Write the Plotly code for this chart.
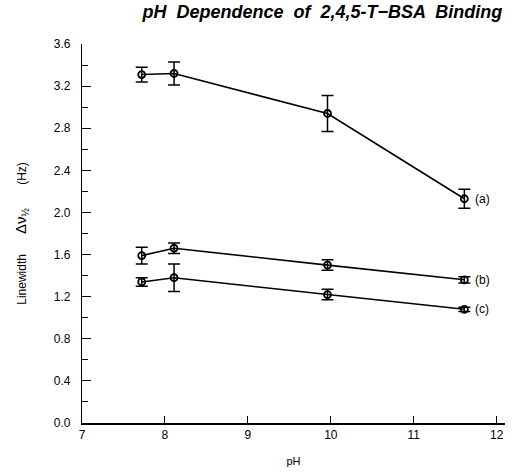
import plotly.graph_objects as go

ph = [7.72, 8.11, 9.96, 11.61]
a_vals = [3.31, 3.32, 2.94, 2.13]
a_err = [0.07, 0.11, 0.17, 0.09]
b_vals = [1.59, 1.66, 1.50, 1.36]
b_err = [0.08, 0.05, 0.05, 0.03]
c_vals = [1.34, 1.38, 1.22, 1.08]
c_err = [0.04, 0.13, 0.05, 0.02]
series_labels = ["(a)", "(b)", "(c)"]

FONT = "Liberation Sans, Arial, sans-serif"
fig = go.Figure()
for vals, err, lab in zip([a_vals, b_vals, c_vals], [a_err, b_err, c_err], series_labels):
    fig.add_trace(go.Scatter(
        x=ph, y=vals, mode="lines+markers",
        line=dict(color="black", width=1.6),
        marker=dict(symbol="circle-open", size=7, color="black", line=dict(width=1.8)),
        error_y=dict(type="data", array=err, visible=True, color="black", thickness=1.5, width=6),
        showlegend=False,
    ))
    fig.add_annotation(x=ph[-1], y=vals[-1], text=lab, showarrow=False,
                       xanchor="left", xshift=9, font=dict(family=FONT, size=12, color="black"))

fig.update_layout(
    width=515, height=476,
    margin=dict(l=82, r=10, t=44, b=47),
    paper_bgcolor="white", plot_bgcolor="white",
    font=dict(family=FONT, size=12, color="black"),
    title=dict(text="<b><i>pH  Dependence  of  2,4,5-T−BSA  Binding</i></b>",
               x=0.626, xanchor="center", y=0.988, yanchor="top",
               font=dict(family=FONT, size=18, color="black")),
)
fig.update_xaxes(
    range=[7, 12.1], showgrid=False, zeroline=False,
    showline=True, linecolor="black", linewidth=1.5,
    ticks="inside", ticklen=7, tickwidth=1.2, tickcolor="black",
    tickvals=[7, 8, 9, 10, 11, 12], ticktext=["7", "8", "9", "10", "11", "12"],
    title=dict(text="pH", standoff=16, font=dict(size=11)),
)
fig.update_yaxes(
    range=[0, 3.6], showgrid=False, zeroline=False,
    showline=True, linecolor="black", linewidth=1.2,
    ticks="inside", ticklen=9, tickwidth=1.2, tickcolor="black",
    ticklabelstandoff=8,
    tickvals=[0, 0.4, 0.8, 1.2, 1.6, 2.0, 2.4, 2.8, 3.2, 3.6],
    ticktext=["0.0", "0.4", "0.8", "1.2", "1.6", "2.0", "2.4", "2.8", "3.2", "3.6"],
    minor=dict(tickvals=[0.2, 0.6, 1.0, 1.4, 1.8, 2.2, 2.6, 3.0, 3.4], ticks="inside",
               ticklen=6, tickwidth=1.2, tickcolor="black", showgrid=False),
    title=dict(text="Linewidth      <span style='font-size:15px'>Δν</span><sub><span style='font-size:10px'>½</span></sub>       (Hz)",
               standoff=24, font=dict(size=12)),
)
fig.write_html("out.html")
